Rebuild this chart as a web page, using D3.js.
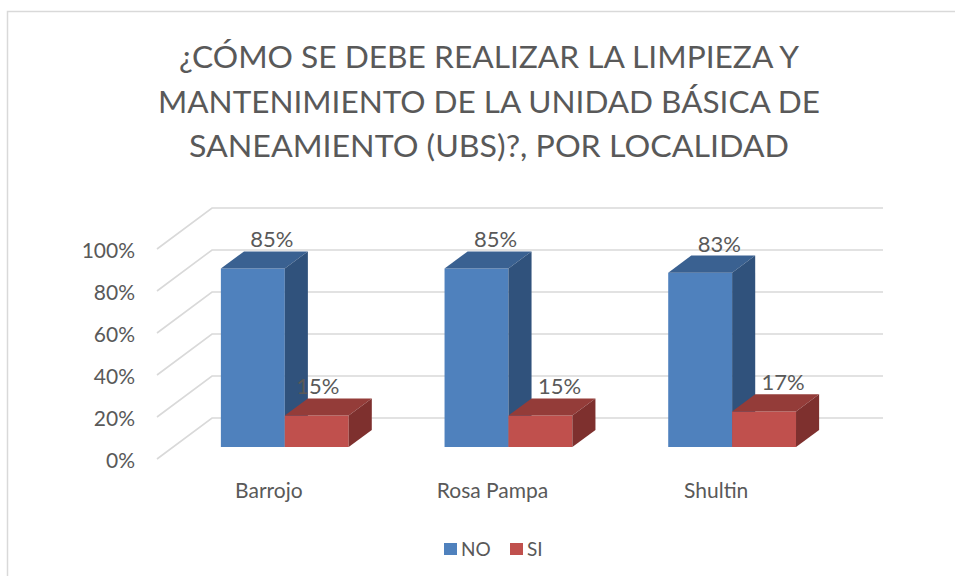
<!DOCTYPE html>
<html>
<head>
<meta charset="utf-8">
<script src="https://cdn.jsdelivr.net/npm/d3@7"></script>
<style>
  html, body { margin: 0; padding: 0; background: #fff; }
  svg { display: block; }
  text { font-family: Lato, "Open Sans", sans-serif; fill: #595959; }
</style>
</head>
<body>
<svg id="chart" width="955" height="576"></svg>
<script>
const categories = ["Barrojo", "Rosa Pampa", "Shultin"];
const seriesNames = ["NO", "SI"];
const noValues = [0.85, 0.85, 0.83];
const siValues = [0.15, 0.15, 0.17];
const yTicks = [0, 0.2, 0.4, 0.6, 0.8, 1.0];
const titleLines = [
  "¿CÓMO SE DEBE REALIZAR LA LIMPIEZA Y",
  "MANTENIMIENTO DE LA UNIDAD BÁSICA DE",
  "SANEAMIENTO (UBS)?, POR LOCALIDAD"
];

const colors = {
  NO: { front: "#4F81BD", top: "#3A6191", side: "#30527C" },
  SI: { front: "#C0504D", top: "#943C39", side: "#7E302E" }
};

const svg = d3.select("#chart");

// chart border
svg.append("rect").attr("x", 7.5).attr("y", 11.5).attr("width", 1000).attr("height", 700)
  .attr("fill", "none").attr("stroke", "#D9D9D9").attr("stroke-width", 1.5);

// title
const titleWidths = [620, 662, 600];
const titleBase = [68, 113, 157];
titleLines.forEach((t, i) => {
  svg.append("text").attr("x", 489).attr("y", titleBase[i])
    .attr("text-anchor", "middle").attr("font-size", 30)
    .attr("textLength", titleWidths[i]).attr("lengthAdjust", "spacingAndGlyphs")
    .text(t);
});

// scales
const x0 = d3.scaleBand().domain(categories).range([157, 828]);
const bw = x0.bandwidth();
const barW = bw / 3.5;
const x1 = d3.scaleBand().domain(seriesNames).range([0.75 * barW, 2.75 * barW]);
const y = d3.scaleLinear().domain([0, 1]).range([459, 249]);
const DX = 55, DY = 41;
const proj = (x, v, d) => [x + d * DX, y(v) - d * DY];

// gridlines (side wall diagonals + back wall)
const grid = svg.append("g");
yTicks.forEach(t => {
  const a = proj(x0.range()[0], t, 0), b = proj(x0.range()[0], t, 1), c = proj(x0.range()[1], t, 1);
  grid.append("polyline").attr("points", [a, b, c].map(p => p.join(",")).join(" "))
    .attr("fill", "none").attr("stroke", "#D9D9D9").attr("stroke-width", 1.6);
});

// y axis labels
const fmt = d3.format(".0%");
yTicks.forEach(t => {
  svg.append("text").attr("x", 135).attr("y", y(t) + 2).attr("dy", "0.35em")
    .attr("text-anchor", "end").attr("font-size", 21).text(fmt(t));
});

// category labels
categories.forEach(c => {
  svg.append("text").attr("x", x0(c) + bw / 2).attr("y", 498)
    .attr("text-anchor", "middle").attr("font-size", 21).text(c);
});

// bars
const d0 = 0.29, d1 = 0.71;
const seriesData = { NO: noValues, SI: siValues };
const pts = arr => arr.map(p => p.join(",")).join(" ");
const barsG = svg.append("g");
const labelsG = svg.append("g");
categories.forEach((c, i) => {
  seriesNames.forEach(s => {
    const v = seriesData[s][i];
    const xl = x0(c) + x1(s), xr = xl + x1.bandwidth();
    const col = colors[s];
    barsG.append("polygon").attr("points", pts([proj(xl, v, d0), proj(xr, v, d0), proj(xr, 0, d0), proj(xl, 0, d0)]))
      .attr("fill", col.front);
    barsG.append("polygon").attr("points", pts([proj(xl, v, d0), proj(xr, v, d0), proj(xr, v, d1), proj(xl, v, d1)]))
      .attr("fill", col.top);
    barsG.append("polygon").attr("points", pts([proj(xr, v, d0), proj(xr, v, d1), proj(xr, 0, d1), proj(xr, 0, d0)]))
      .attr("fill", col.side);
    const nudge = (s === "SI" && i === 0) ? -18 : 0;
    const lp = proj((xl + xr) / 2, v, d1);
    labelsG.append("text").attr("x", lp[0] - 4 + nudge).attr("y", lp[1] - 4)
      .attr("text-anchor", "middle").attr("font-size", 22).text(fmt(v));
  });
});

// legend
const legend = svg.append("g");
const legendItems = [{ name: "NO", x: 444 }, { name: "SI", x: 510 }];
legendItems.forEach(it => {
  legend.append("rect").attr("x", it.x).attr("y", 543).attr("width", 13).attr("height", 12)
    .attr("fill", colors[it.name].front);
  legend.append("text").attr("x", it.x + 17).attr("y", 556).attr("font-size", 19).text(it.name);
});
</script>
</body>
</html>
